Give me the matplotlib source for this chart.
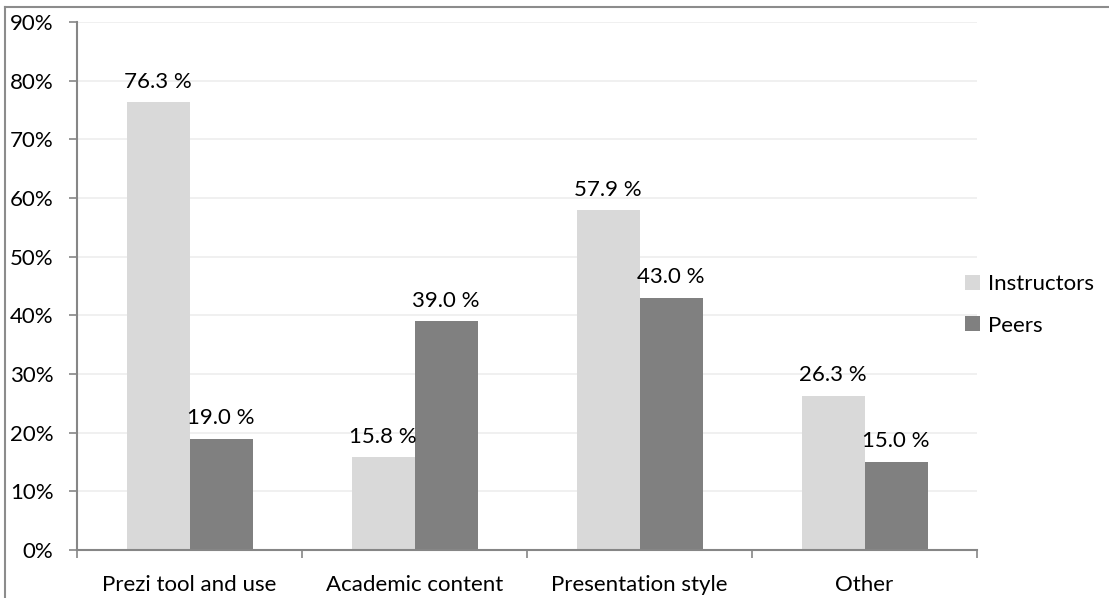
import numpy as np
import matplotlib.pyplot as plt
from matplotlib.lines import Line2D

plt.rcParams['font.family'] = ['Lato', 'DejaVu Sans']

categories = ['Prezi tool and use', 'Academic content', 'Presentation style', 'Other']
instructors = [76.3, 15.8, 57.9, 26.3]
peers = [19.0, 39.0, 43.0, 15.0]
yticks = [0, 10, 20, 30, 40, 50, 60, 70, 80, 90]

fs = 16
c_inst = '#D9D9D9'
c_peer = '#808080'
axis_col = '#868686'

W, H = 1109, 598
fig = plt.figure(figsize=(W / 100, H / 100), dpi=100)
ax = fig.add_axes([77 / W, 48 / H, (977 - 77) / W, (550 - 22) / H])

x = np.arange(len(categories))
bw = 0.28
b1 = ax.bar(x - bw / 2, instructors, bw, color=c_inst, label='Instructors', zorder=2)
b2 = ax.bar(x + bw / 2, peers, bw, color=c_peer, label='Peers', zorder=2)

for bars, vals in [(b1, instructors), (b2, peers)]:
    for r, v in zip(bars, vals):
        ax.text(r.get_x() + r.get_width() / 2, v + 2.5, '%.1f %%' % v,
                ha='center', va='baseline', fontsize=fs, color='#000000')

ax.set_xlim(-0.5, len(categories) - 0.5)
ax.set_ylim(0, 90)
ax.set_yticks(yticks)
ax.set_yticklabels(['%d%%' % t for t in yticks])
ax.yaxis.grid(True, color='#EDEDED', linewidth=1.2, zorder=0)
ax.set_axisbelow(True)

ax.set_xticks(x)
ax.set_xticklabels(categories)
ax.set_xticks(np.arange(len(categories) + 1) - 0.5, minor=True)
ax.tick_params(axis='x', which='major', length=0, pad=18, labelsize=fs)
ax.tick_params(axis='x', which='minor', length=6, width=1.2, color=axis_col)
ax.tick_params(axis='y', length=6, width=1.2, color=axis_col, pad=11, labelsize=fs)

for s in ['top', 'right']:
    ax.spines[s].set_visible(False)
for s in ['left', 'bottom']:
    ax.spines[s].set_color(axis_col)
    ax.spines[s].set_linewidth(1.5)

leg = fig.legend(loc='center left', bbox_to_anchor=(965 / W, 1 - 305 / H),
                 frameon=False, fontsize=fs, handlelength=0.68, handleheight=0.68,
                 handletextpad=0.36, labelspacing=0.95, borderpad=0, borderaxespad=0)

# outer chart border (top and left visible)
fig.add_artist(Line2D([5 / W, 1], [1 - 7 / H, 1 - 7 / H], transform=fig.transFigure,
                      color='#8C8C8C', linewidth=1.5))
fig.add_artist(Line2D([5 / W, 5 / W], [0, 1 - 7 / H], transform=fig.transFigure,
                      color='#8C8C8C', linewidth=1.5))

fig.savefig('out.png', dpi=100)
